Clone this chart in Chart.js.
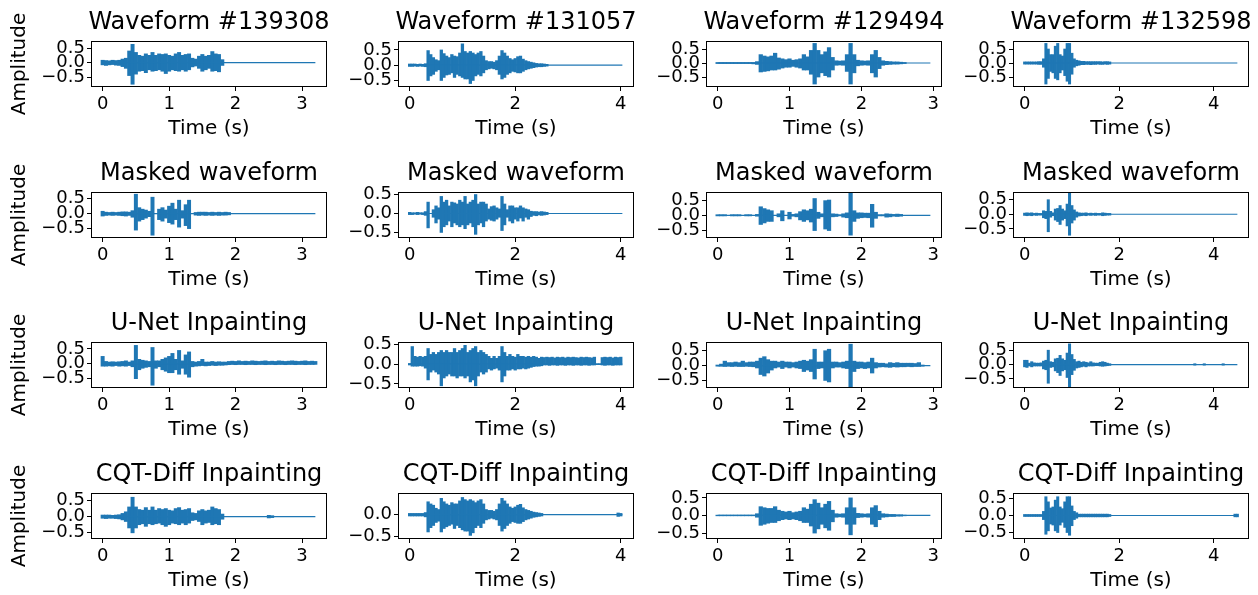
<!DOCTYPE html>
<html>
<head>
<meta charset="utf-8">
<title>Waveform inpainting comparison</title>
<script src="https://cdn.jsdelivr.net/npm/chart.js@4.4.1/dist/chart.umd.min.js"></script>
<style>
  html, body { margin: 0; padding: 0; background: #fff; }
  #figure { position: relative; width: 1258px; height: 595px; overflow: hidden; }
  #figure canvas { position: absolute; }
</style>
</head>
<body>
<div id="figure"></div>
<script>
// ===== DATA =====
// envelope of each clip, one [min, max] pair every STEP seconds (null = masked / silent)
const STEP = 0.05;
const ids = ["139308", "131057", "129494", "132598"];
const durations = [3.2, 4.03, 2.96, 4.5];
const xTickStep = [1, 2, 1, 2];
const rowTitles = ["Waveform", "Masked waveform", "U-Net Inpainting", "CQT-Diff Inpainting"];

const yLimOrig   = [[-0.81, 0.71], [-0.68, 0.76], [-0.82, 0.75], [-0.82, 0.75]];
const yLimMasked = [[-0.78, 0.69], [-0.62, 0.54], [-0.71, 0.73], [-0.78, 0.73]];
const yLimUnet   = [[-0.78, 0.70], [-0.58, 0.54], [-0.72, 0.76], [-0.78, 0.75]];
const yLimCqt    = [[-0.66, 0.70], [-0.54, 0.48], [-0.64, 0.61], [-0.66, 0.63]];

const orig139308 = [[-0.08,0.08],[-0.10,0.07],[-0.08,0.06],[-0.07,0.08],[-0.09,0.07],[-0.10,0.08],[-0.14,0.12],[-0.20,0.15],[-0.45,0.40],[-0.75,0.63],
  [-0.40,0.35],[-0.30,0.25],[-0.28,0.22],[-0.35,0.30],[-0.25,0.25],[-0.30,0.35],[-0.28,0.25],[-0.25,0.30],[-0.30,0.28],[-0.38,0.30],
  [-0.30,0.25],[-0.25,0.22],[-0.28,0.30],[-0.30,0.35],[-0.25,0.25],[-0.30,0.28],[-0.25,0.30],[-0.15,0.15],[-0.12,0.12],[-0.20,0.22],
  [-0.30,0.28],[-0.25,0.22],[-0.20,0.25],[-0.30,0.38],[-0.28,0.30],[-0.32,0.28],[-0.10,0.10]];
const orig131057 = [[-0.04,0.04],[-0.04,0.04],[-0.03,0.04],[-0.04,0.03],[-0.03,0.04],[-0.04,0.03],[-0.05,0.05],[-0.50,0.48],[-0.35,0.35],[-0.30,0.25],
  [-0.20,0.18],[-0.15,0.15],[-0.50,0.50],[-0.40,0.38],[-0.32,0.30],[-0.30,0.25],[-0.25,0.35],[-0.40,0.30],[-0.30,0.28],[-0.35,0.40],
  [-0.40,0.70],[-0.45,0.45],[-0.45,0.40],[-0.60,0.45],[-0.50,0.40],[-0.35,0.35],[-0.30,0.40],[-0.35,0.45],[-0.25,0.30],[-0.15,0.15],
  [-0.12,0.12],[-0.10,0.12],[-0.12,0.10],[-0.15,0.15],[-0.30,0.30],[-0.45,0.48],[-0.40,0.40],[-0.30,0.30],[-0.25,0.22],[-0.20,0.18],
  [-0.22,0.22],[-0.25,0.28],[-0.25,0.30],[-0.20,0.20],[-0.15,0.15],[-0.12,0.12],[-0.10,0.10],[-0.08,0.08],[-0.06,0.06],[-0.05,0.05],
  [-0.05,0.05],[-0.04,0.04],[-0.03,0.03]];
const orig129494 = [[-0.02,0.02],[-0.02,0.02],[-0.02,0.02],[-0.02,0.02],[-0.02,0.02],[-0.02,0.02],[-0.02,0.02],[-0.02,0.02],[-0.02,0.02],[-0.02,0.02],
  [-0.03,0.02],[-0.05,0.05],[-0.32,0.30],[-0.30,0.25],[-0.28,0.22],[-0.25,0.25],[-0.25,0.35],[-0.22,0.18],[-0.18,0.15],[-0.15,0.12],
  [-0.15,0.15],[-0.12,0.10],[-0.15,0.12],[-0.18,0.15],[-0.25,0.30],[-0.25,0.22],[-0.40,0.45],[-0.75,0.70],[-0.50,0.45],[-0.35,0.30],
  [-0.45,0.40],[-0.50,0.55],[-0.25,0.20],[-0.08,0.08],[-0.07,0.07],[-0.08,0.08],[-0.30,0.30],[-0.75,0.70],[-0.35,0.30],[-0.10,0.10],
  [-0.08,0.08],[-0.07,0.07],[-0.08,0.08],[-0.35,0.30],[-0.50,0.45],[-0.20,0.20],[-0.08,0.08],[-0.06,0.06],[-0.05,0.05],[-0.04,0.04],
  [-0.04,0.04],[-0.03,0.03],[-0.02,0.02]];
const orig132598 = [[-0.04,0.04],[-0.04,0.04],[-0.04,0.04],[-0.04,0.04],[-0.04,0.04],[-0.04,0.04],[-0.05,0.05],[-0.05,0.05],[-0.15,0.15],[-0.75,0.70],
  [-0.55,0.50],[-0.30,0.30],[-0.35,0.30],[-0.55,0.60],[-0.60,0.70],[-0.35,0.30],[-0.25,0.25],[-0.45,0.50],[-0.65,0.70],[-0.75,0.70],
  [-0.40,0.35],[-0.15,0.15],[-0.10,0.10],[-0.08,0.08],[-0.06,0.06],[-0.06,0.06],[-0.05,0.05],[-0.05,0.05],[-0.06,0.05],[-0.05,0.05],
  [-0.05,0.05],[-0.04,0.05],[-0.05,0.05],[-0.05,0.04],[-0.04,0.05],[-0.05,0.05],[-0.04,0.04]];

const masked139308 = [[-0.08,0.08],[-0.06,0.05],[-0.05,0.04],[-0.06,0.05],[-0.05,0.04],[-0.06,0.05],[-0.07,0.06],[-0.08,0.06],[-0.06,0.05],[-0.12,0.10],
  [-0.55,0.65],[-0.25,0.20],[-0.20,0.15],[-0.15,0.12],[-0.10,0.08],[-0.72,0.55],null,[-0.20,0.15],[-0.25,0.20],[-0.15,0.12],
  [-0.30,0.25],[-0.35,0.35],[-0.20,0.15],[-0.45,0.45],[-0.15,0.10],[-0.40,0.30],[-0.50,0.45],null,[-0.05,0.04],[-0.06,0.05],
  [-0.05,0.05],[-0.06,0.05],[-0.05,0.04],[-0.06,0.05],[-0.05,0.04],[-0.06,0.05],[-0.05,0.04],[-0.05,0.05],[-0.04,0.04]];
const masked131057 = [[-0.03,0.03],[-0.03,0.02],[-0.02,0.02],[-0.03,0.03],[-0.02,0.02],[-0.03,0.02],[-0.05,0.05],[-0.38,0.30],null,[-0.10,0.10],
  [-0.25,0.20],[-0.15,0.15],[-0.50,0.45],[-0.35,0.30],[-0.30,0.35],[-0.20,0.20],[-0.35,0.30],[-0.25,0.28],[-0.30,0.25],[-0.35,0.35],
  [-0.30,0.30],[-0.40,0.45],[-0.30,0.25],[-0.25,0.30],[-0.35,0.35],[-0.55,0.50],[-0.30,0.25],[-0.25,0.30],[-0.35,0.30],[-0.20,0.25],
  [-0.15,0.12],[-0.18,0.18],[-0.20,0.20],[-0.15,0.15],[-0.10,0.12],[-0.45,0.45],[-0.30,0.25],[-0.10,0.10],[-0.20,0.20],[-0.25,0.20],
  [-0.15,0.15],[-0.20,0.15],[-0.12,0.20],[-0.20,0.15],[-0.10,0.12],[-0.15,0.10],[-0.08,0.06],[-0.05,0.05],[-0.06,0.05],[-0.04,0.04],
  [-0.05,0.05],[-0.04,0.04],[-0.03,0.03]];
const masked129494 = [[-0.02,0.02],[-0.02,0.02],[-0.02,0.02],null,[-0.02,0.02],[-0.02,0.02],[-0.02,0.02],null,[-0.02,0.02],[-0.02,0.02],
  null,[-0.03,0.03],[-0.30,0.28],[-0.25,0.22],[-0.20,0.18],[-0.20,0.15],null,[-0.05,0.05],[-0.18,0.15],null,
  [-0.12,0.10],[-0.03,0.03],[-0.05,0.05],[-0.15,0.12],[-0.20,0.18],[-0.15,0.15],[-0.22,0.20],[-0.50,0.55],[-0.10,0.10],[-0.05,0.05],
  [-0.45,0.48],[-0.50,0.50],[-0.05,0.05],[-0.04,0.04],[-0.02,0.02],[-0.06,0.05],[-0.08,0.08],[-0.65,0.72],[-0.20,0.15],[-0.10,0.08],
  [-0.08,0.08],[-0.07,0.07],[-0.08,0.07],[-0.39,0.36],[-0.10,0.10],[-0.02,0.02],[-0.02,0.02],[-0.06,0.05],[-0.05,0.04],[-0.03,0.03],
  [-0.04,0.04],[-0.03,0.03]];
const masked132598 = [[-0.04,0.04],[-0.05,0.05],[-0.04,0.04],[-0.05,0.05],[-0.03,0.03],[-0.04,0.04],[-0.03,0.03],[-0.03,0.03],[-0.12,0.12],[-0.15,0.10],
  [-0.60,0.50],[-0.10,0.10],[-0.05,0.05],[-0.20,0.18],[-0.25,0.20],[-0.35,0.30],[-0.20,0.18],[-0.15,0.12],[-0.40,0.35],[-0.72,0.72],
  [-0.30,0.30],[-0.20,0.15],[-0.10,0.08],[-0.06,0.05],[-0.05,0.04],[-0.04,0.04],[-0.05,0.05],[-0.03,0.03],[-0.04,0.04],[-0.03,0.03],
  [-0.04,0.04],[-0.03,0.03],[-0.03,0.03],[-0.05,0.05],[-0.04,0.04],[-0.03,0.03],[-0.03,0.03]];

const unet139308 = [[-0.08,0.25],[-0.08,0.08],[-0.07,0.06],[-0.08,0.07],[-0.06,0.06],[-0.08,0.07],[-0.07,0.08],[-0.08,0.10],[-0.06,0.06],[-0.10,0.10],
  [-0.50,0.62],[-0.20,0.15],[-0.15,0.12],[-0.12,0.10],[-0.10,0.08],[-0.72,0.55],[-0.15,0.10],[-0.10,0.10],[-0.20,0.15],[-0.25,0.20],
  [-0.30,0.25],[-0.30,0.35],[-0.20,0.15],[-0.35,0.45],[-0.15,0.10],[-0.35,0.30],[-0.45,0.40],[-0.10,0.08],[-0.08,0.06],[-0.07,0.08],
  [-0.06,0.15],[-0.07,0.06],[-0.06,0.06],[-0.05,0.08],[-0.06,0.06],[-0.05,0.07],[-0.05,0.06],[-0.04,0.06],[-0.03,0.08],[-0.02,0.09],
  [-0.03,0.08],[-0.02,0.10],[-0.02,0.08],[-0.03,0.09],[-0.02,0.08],[-0.02,0.10],[-0.03,0.09],[-0.02,0.08],[-0.02,0.09],[-0.03,0.10],
  [-0.02,0.08],[-0.02,0.09],[-0.03,0.08],[-0.02,0.10],[-0.02,0.09],[-0.03,0.08],[-0.02,0.09],[-0.02,0.10],[-0.03,0.09],[-0.02,0.08],
  [-0.02,0.09],[-0.03,0.10],[-0.02,0.08],[-0.02,0.09],[-0.02,0.08]];
const unet131057 = [[-0.02,0.02],[-0.05,0.45],[-0.05,0.20],[-0.05,0.18],[-0.04,0.20],[-0.05,0.18],[-0.10,0.20],[-0.40,0.40],[-0.20,0.25],[-0.15,0.30],
  [-0.20,0.25],[-0.25,0.30],[-0.55,0.35],[-0.35,0.30],[-0.30,0.35],[-0.25,0.30],[-0.30,0.30],[-0.30,0.40],[-0.35,0.30],[-0.30,0.35],
  [-0.30,0.40],[-0.35,0.48],[-0.30,0.30],[-0.45,0.35],[-0.40,0.40],[-0.55,0.45],[-0.30,0.30],[-0.20,0.35],[-0.25,0.30],[-0.20,0.25],
  [-0.12,0.20],[-0.15,0.15],[-0.12,0.20],[-0.10,0.15],[-0.15,0.20],[-0.45,0.45],[-0.30,0.30],[-0.15,0.20],[-0.15,0.25],[-0.12,0.20],
  [-0.15,0.18],[-0.12,0.25],[-0.12,0.20],[-0.10,0.20],[-0.12,0.18],[-0.10,0.20],[-0.08,0.18],[-0.06,0.20],[-0.05,0.18],[-0.05,0.15],
  [-0.04,0.18],[-0.02,0.17],[-0.02,0.18],[-0.03,0.17],[-0.02,0.18],[-0.02,0.16],[-0.03,0.18],[-0.02,0.17],[-0.02,0.18],[-0.03,0.16],
  [-0.02,0.18],[-0.02,0.17],[-0.03,0.18],[-0.02,0.17],[-0.02,0.16],[-0.03,0.18],[-0.02,0.17],[-0.02,0.18],[-0.03,0.17],[-0.02,0.16],
  [-0.02,0.18],[-0.01,0.01],[-0.01,0.01],[-0.02,0.17],[-0.03,0.18],[-0.02,0.17],[-0.02,0.18],[-0.03,0.16],[-0.02,0.18],[-0.02,0.17],
  [-0.02,0.18]];
const unet129494 = [[-0.02,0.02],[-0.02,0.05],[-0.03,0.15],[-0.02,0.10],[-0.03,0.10],[-0.02,0.12],[-0.03,0.10],[-0.03,0.15],[-0.02,0.10],[-0.03,0.12],
  [-0.04,0.12],[-0.08,0.15],[-0.30,0.25],[-0.35,0.30],[-0.25,0.20],[-0.15,0.15],[-0.08,0.15],[-0.05,0.12],[-0.10,0.15],[-0.05,0.12],
  [-0.08,0.12],[-0.05,0.10],[-0.08,0.12],[-0.10,0.15],[-0.20,0.18],[-0.15,0.15],[-0.20,0.20],[-0.45,0.55],[-0.10,0.12],[-0.08,0.12],
  [-0.50,0.50],[-0.55,0.55],[-0.08,0.12],[-0.05,0.12],[-0.05,0.10],[-0.08,0.12],[-0.10,0.15],[-0.72,0.72],[-0.20,0.15],[-0.10,0.12],
  [-0.08,0.12],[-0.10,0.10],[-0.08,0.12],[-0.25,0.25],[-0.08,0.10],[-0.05,0.08],[-0.04,0.08],[-0.05,0.06],[-0.06,0.10],[-0.04,0.08],
  [-0.05,0.10],[-0.04,0.08],[-0.04,0.08],[-0.03,0.08],[-0.04,0.08],[-0.03,0.07],[-0.03,0.10],[-0.02,0.02]];
const unet132598 = [[-0.08,0.15],[-0.10,0.15],[-0.05,0.05],[-0.08,0.10],[-0.05,0.06],[-0.05,0.05],[-0.05,0.05],[-0.05,0.06],[-0.15,0.12],[-0.18,0.15],
  [-0.65,0.50],[-0.10,0.10],[-0.08,0.08],[-0.22,0.20],[-0.28,0.22],[-0.38,0.32],[-0.22,0.20],[-0.18,0.15],[-0.45,0.40],[-0.78,0.72],
  [-0.35,0.35],[-0.20,0.18],[-0.12,0.10],[-0.10,0.12],[-0.08,0.08],[-0.06,0.10],[-0.08,0.08],[-0.05,0.06],[-0.05,0.10],[-0.05,0.06],
  [-0.04,0.05],[-0.04,0.05],[-0.05,0.08],[-0.06,0.10],[-0.05,0.08],[-0.04,0.05],[-0.03,0.03]];

const cqt139308 = [[-0.05,0.05],[-0.06,0.05],[-0.05,0.05],[-0.05,0.04],[-0.06,0.05],[-0.07,0.06],[-0.10,0.10],[-0.15,0.15],[-0.35,0.30],[-0.50,0.60],
  [-0.35,0.30],[-0.25,0.22],[-0.22,0.20],[-0.30,0.28],[-0.22,0.20],[-0.25,0.30],[-0.22,0.20],[-0.20,0.25],[-0.25,0.22],[-0.30,0.25],
  [-0.25,0.20],[-0.20,0.18],[-0.22,0.25],[-0.25,0.28],[-0.20,0.20],[-0.25,0.22],[-0.20,0.25],[-0.12,0.12],[-0.10,0.10],[-0.15,0.18],
  [-0.25,0.22],[-0.20,0.18],[-0.18,0.20],[-0.25,0.30],[-0.22,0.25],[-0.25,0.22],[-0.08,0.08]];
const cqt131057 = [[-0.03,0.03],[-0.03,0.03],[-0.03,0.03],[-0.03,0.03],[-0.03,0.03],[-0.03,0.03],[-0.05,0.05],[-0.40,0.30],[-0.30,0.25],[-0.25,0.22],
  [-0.18,0.15],[-0.15,0.12],[-0.40,0.38],[-0.32,0.30],[-0.28,0.25],[-0.25,0.22],[-0.22,0.28],[-0.32,0.25],[-0.25,0.25],[-0.30,0.32],
  [-0.35,0.40],[-0.38,0.35],[-0.38,0.32],[-0.48,0.35],[-0.42,0.32],[-0.30,0.28],[-0.25,0.32],[-0.30,0.35],[-0.20,0.25],[-0.12,0.12],
  [-0.10,0.10],[-0.08,0.10],[-0.10,0.08],[-0.12,0.12],[-0.25,0.25],[-0.38,0.38],[-0.32,0.32],[-0.25,0.25],[-0.20,0.18],[-0.16,0.15],
  [-0.18,0.18],[-0.20,0.22],[-0.20,0.24],[-0.16,0.16],[-0.12,0.12],[-0.10,0.10],[-0.08,0.08],[-0.06,0.06],[-0.05,0.05],[-0.04,0.04],
  [-0.03,0.03]];
const cqt129494 = [[-0.01,0.01],[-0.01,0.01],[-0.01,0.01],[-0.01,0.01],[-0.01,0.01],[-0.01,0.01],[-0.01,0.01],[-0.01,0.01],[-0.01,0.01],[-0.01,0.01],
  [-0.01,0.01],[-0.05,0.05],[-0.28,0.25],[-0.25,0.22],[-0.22,0.20],[-0.20,0.20],[-0.20,0.25],[-0.15,0.15],[-0.12,0.12],[-0.10,0.10],
  [-0.12,0.12],[-0.10,0.08],[-0.12,0.10],[-0.15,0.12],[-0.20,0.22],[-0.20,0.18],[-0.30,0.32],[-0.50,0.45],[-0.38,0.35],[-0.25,0.22],
  [-0.35,0.32],[-0.42,0.40],[-0.18,0.15],[-0.05,0.05],[-0.04,0.04],[-0.05,0.05],[-0.25,0.22],[-0.55,0.50],[-0.25,0.22],[-0.06,0.06],
  [-0.05,0.05],[-0.04,0.04],[-0.05,0.05],[-0.25,0.22],[-0.32,0.28],[-0.12,0.12],[-0.05,0.05],[-0.04,0.04],[-0.03,0.03],[-0.03,0.03],
  [-0.02,0.02],[-0.02,0.02],[-0.01,0.01]];
const cqt132598 = [[-0.03,0.03],[-0.03,0.03],[-0.03,0.03],[-0.03,0.03],[-0.03,0.03],[-0.03,0.03],[-0.03,0.03],[-0.03,0.03],[-0.12,0.12],[-0.55,0.55],
  [-0.45,0.40],[-0.25,0.22],[-0.28,0.25],[-0.45,0.45],[-0.50,0.55],[-0.28,0.25],[-0.20,0.20],[-0.35,0.40],[-0.50,0.55],[-0.58,0.55],
  [-0.30,0.28],[-0.12,0.12],[-0.08,0.08],[-0.04,0.04],[-0.04,0.04],[-0.04,0.04],[-0.04,0.04],[-0.04,0.04],[-0.04,0.04],[-0.04,0.04],
  [-0.04,0.04],[-0.04,0.04],[-0.04,0.04],[-0.04,0.04],[-0.04,0.04],[-0.04,0.04],[-0.03,0.03]];

// isolated short bursts in the silent tails: [time, min, max]
const unet132598Blips = [[3.60,-0.02,0.03],[3.80,-0.02,0.03],[4.20,-0.02,0.03]];
const cqt139308Blips = [[2.50,-0.04,0.04],[2.55,-0.03,0.03]];
const cqt131057Blips = [[3.95,-0.04,0.04],[4.00,-0.03,0.03]];
const cqt132598Blips = [[4.45,-0.04,0.04],[4.50,-0.04,0.04]];

// ===== LAYOUT =====
const BLUE = "#1f77b4";
const FONT = "'DejaVu Sans', sans-serif";
const colLeft = [92, 399, 707, 1014];
const rowTop = [42, 193, 343, 494];
const plotW = 234, plotH = 44;
const titleH = 33, xAxisH = 54;
const yAxisW = [87, 60, 60, 60];

const rows = [
    { data: [orig139308, orig131057, orig129494, orig132598], blips: [[], [], [], []], ylim: yLimOrig },
    { data: [masked139308, masked131057, masked129494, masked132598], blips: [[], [], [], []], ylim: yLimMasked },
    { data: [unet139308, unet131057, unet129494, unet132598], blips: [[], [], [], unet132598Blips], ylim: yLimUnet },
    { data: [cqt139308, cqt131057, cqt129494, cqt132598], blips: [cqt139308Blips, cqt131057Blips, [], cqt132598Blips], ylim: yLimCqt }
];

// full box around each axes, like matplotlib spines
const framePlugin = {
    id: "frame",
    afterDraw(chart) {
        const { ctx, chartArea: a } = chart;
        ctx.save();
        ctx.strokeStyle = "#000";
        ctx.lineWidth = 1;
        ctx.strokeRect(a.left - 0.5, a.top - 0.5, a.right - a.left + 1, a.bottom - a.top + 1);
        ctx.restore();
    }
};

function fmtAmp(v) {
    return (v < 0 ? "\u2212" : "") + Math.abs(v).toFixed(1);
}

function makePanel(row, col) {
    const r = rows[row];
    const D = durations[col];
    const env = r.data[col];
    const yw = yAxisW[col];

    const canvas = document.createElement("canvas");
    canvas.width = yw * 2 + plotW;
    canvas.height = titleH + plotH + xAxisH;
    canvas.style.left = (colLeft[col] - yw) + "px";
    canvas.style.top = (rowTop[row] - titleH) + "px";
    document.getElementById("figure").appendChild(canvas);

    const bars = env.map((v, i) => ({ x: i * STEP, y: v }));
    const blips = r.blips[col].map(b => ({ x: b[0], y: [b[1], b[2]] }));

    const barStyle = {
        type: "bar",
        backgroundColor: BLUE,
        borderWidth: 0,
        barPercentage: 1,
        categoryPercentage: 1,
        grouped: false,
        xAxisID: "x",
        yAxisID: "y"
    };

    const title = row === 0 ? `${rowTitles[0]} #${ids[col]}` : rowTitles[row];
    const tickFont = { family: FONT, size: 18 };
    const labelFont = { family: FONT, size: 20, lineHeight: "22px" };

    new Chart(canvas, {
        type: "bar",
        data: {
            datasets: [
                {
                    type: "line",
                    data: [{ x: 0, y: 0 }, { x: D, y: 0 }],
                    borderColor: BLUE,
                    borderWidth: 1.2,
                    pointRadius: 0,
                    xAxisID: "x",
                    yAxisID: "y"
                },
                Object.assign({ data: bars }, barStyle),
                Object.assign({ data: blips }, barStyle)
            ]
        },
        options: {
            responsive: false,
            animation: false,
            events: [],
            layout: { padding: 0 },
            plugins: {
                legend: { display: false },
                tooltip: { enabled: false },
                title: {
                    display: true,
                    text: title,
                    color: "#000",
                    font: { family: FONT, size: 24, weight: "normal", lineHeight: "28px" },
                    padding: { top: 0, bottom: 5 }
                }
            },
            scales: {
                x: {
                    type: "linear",
                    min: -0.05 * D,
                    max: 1.05 * D,
                    offset: false,
                    afterFit: s => { s.height = xAxisH; },
                    border: { display: false },
                    grid: { display: true, drawOnChartArea: false, drawTicks: true, tickLength: 5, color: "#000", offset: false },
                    ticks: {
                        stepSize: xTickStep[col],
                        includeBounds: false,
                        autoSkip: false,
                        maxRotation: 0,
                        padding: 3,
                        color: "#000",
                        font: tickFont,
                        callback: v => String(v)
                    },
                    title: { display: true, text: "Time (s)", color: "#000", font: labelFont, padding: 0 }
                },
                y: {
                    type: "linear",
                    position: "left",
                    min: r.ylim[col][0],
                    max: r.ylim[col][1],
                    afterFit: s => { s.width = yw; },
                    border: { display: false },
                    grid: { display: true, drawOnChartArea: false, drawTicks: true, tickLength: 5, color: "#000" },
                    ticks: {
                        stepSize: 0.5,
                        includeBounds: false,
                        autoSkip: false,
                        padding: 2,
                        color: "#000",
                        font: tickFont,
                        callback: fmtAmp
                    },
                    title: { display: col === 0, text: "Amplitude", color: "#000", font: labelFont, padding: { top: 4, bottom: 0 } }
                },
                // empty axis on the right so the title centres over the plot
                yR: {
                    type: "linear",
                    position: "right",
                    afterFit: s => { s.width = yw; },
                    border: { display: false },
                    grid: { display: false },
                    ticks: { display: false }
                }
            }
        },
        plugins: [framePlugin]
    });
}

for (let row = 0; row < 4; row++) {
    for (let col = 0; col < 4; col++) {
        makePanel(row, col);
    }
}
</script>
</body>
</html>
